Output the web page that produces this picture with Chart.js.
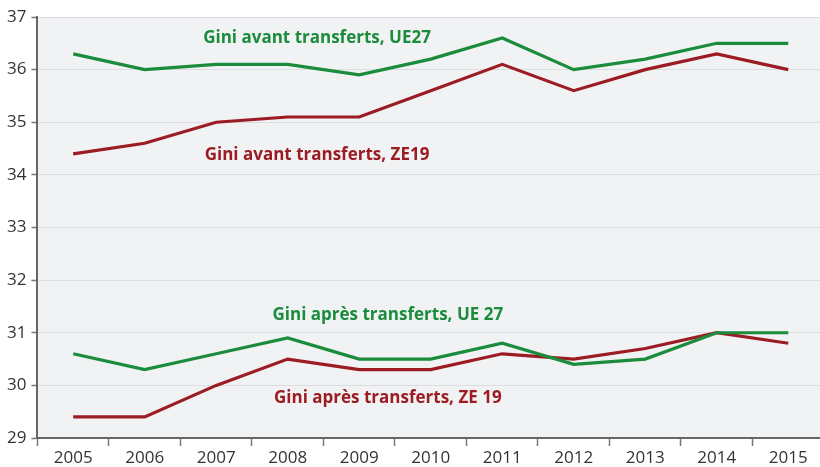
<!DOCTYPE html>
<html>
<head>
<meta charset="utf-8">
<script src="https://cdn.jsdelivr.net/npm/chart.js@4"></script>
<style>
  body { margin: 0; background: #fff; overflow: hidden; }
  #wrap { width: 824px; height: 471px; }
</style>
</head>
<body>
<div id="wrap"><canvas id="giniChart"></canvas></div>
<script>
const years = ['2005', '2006', '2007', '2008', '2009', '2010', '2011', '2012', '2013', '2014', '2015'];
const avantUE27 = [36.3, 36.0, 36.1, 36.1, 35.9, 36.2, 36.6, 36.0, 36.2, 36.5, 36.5];
const avantZE19 = [34.4, 34.6, 35.0, 35.1, 35.1, 35.6, 36.1, 35.6, 36.0, 36.3, 36.0];
const apresUE27 = [30.6, 30.3, 30.6, 30.9, 30.5, 30.5, 30.8, 30.4, 30.5, 31.0, 31.0];
const apresZE19 = [29.4, 29.4, 30.0, 30.5, 30.3, 30.3, 30.6, 30.5, 30.7, 31.0, 30.8];

const green = '#1a8c3c';
const red = '#9b1c22';

// series labels written inside the plot: [text, x index, y value, colour]
const seriesLabels = [
    ['Gini avant transferts, UE27', 3.41, 36.6, green],
    ['Gini avant transferts, ZE19', 3.41, 34.38, red],
    ['Gini après transferts, UE 27', 4.4, 31.33, green],
    ['Gini après transferts, ZE 19', 4.4, 29.76, red]
];

const plotBackground = {
    id: 'plotBackground',
    beforeDraw(chart) {
        const a = chart.chartArea;
        const c = chart.ctx;
        c.save();
        c.fillStyle = '#f1f2f4';
        c.fillRect(a.left, a.top, a.right - a.left, a.bottom - a.top);
        c.restore();
    }
};

const inlineLabels = {
    id: 'inlineLabels',
    afterDatasetsDraw(chart) {
        const c = chart.ctx;
        const xs = chart.scales.x;
        const ys = chart.scales.y;
        c.save();
        c.font = 'bold 17px "Open Sans", sans-serif';
        c.textAlign = 'center';
        c.textBaseline = 'middle';
        seriesLabels.forEach(function(l) {
            c.fillStyle = l[3];
            c.fillText(l[0], xs.getPixelForValue(l[1]), ys.getPixelForValue(l[2]));
        });
        c.restore();
    }
};

function line(data, color) {
    return {
        data: data,
        borderColor: color,
        backgroundColor: color,
        borderWidth: 3.2,
        pointRadius: 0,
        tension: 0,
        fill: false
    };
}

const ctx = document.getElementById('giniChart').getContext('2d');
const giniChart = new Chart(ctx, {
    type: 'line',
    data: {
        labels: years,
        datasets: [
            line(avantUE27, green),
            line(avantZE19, red),
            line(apresUE27, green),
            line(apresZE19, red)
        ]
    },
    options: {
        responsive: true,
        maintainAspectRatio: false,
        animation: false,
        layout: { padding: { top: 17, left: 2, right: 0, bottom: 0 } },
        plugins: {
            legend: { display: false },
            tooltip: { enabled: false }
        },
        scales: {
            x: {
                offset: true,
                grid: {
                    offset: true,
                    drawOnChartArea: false,
                    drawTicks: true,
                    tickLength: 8,
                    tickColor: '#777',
                    tickWidth: 1.5
                },
                border: { color: '#666', width: 2 },
                ticks: {
                    color: '#333',
                    font: { family: '"Open Sans", sans-serif', size: 17, lineHeight: 1.0 },
                    padding: 4,
                    maxRotation: 0
                }
            },
            y: {
                min: 29,
                max: 37,
                grid: {
                    color: '#dcdde0',
                    lineWidth: 1,
                    tickLength: 6,
                    tickColor: '#777',
                    tickWidth: 1.5
                },
                border: { color: '#666', width: 2 },
                ticks: {
                    stepSize: 1,
                    color: '#333',
                    font: { family: '"Open Sans", sans-serif', size: 17 },
                    padding: 5
                }
            }
        }
    },
    plugins: [plotBackground, inlineLabels]
});
</script>
</body>
</html>
